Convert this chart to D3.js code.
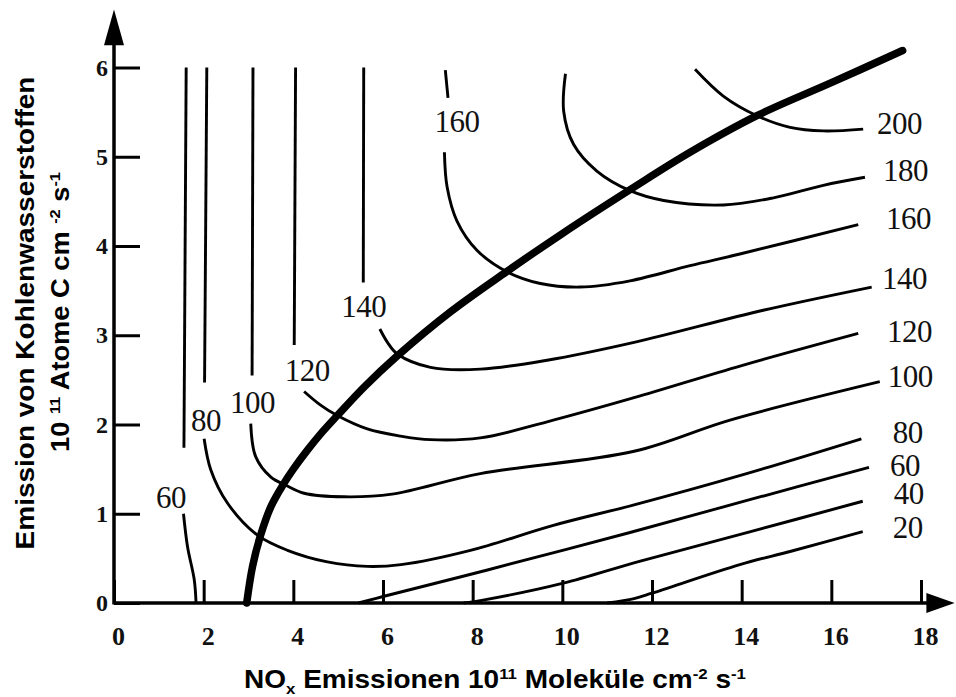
<!DOCTYPE html>
<html>
<head>
<meta charset="utf-8">
<script src="https://cdn.jsdelivr.net/npm/d3@7"></script>
<style>
  body { margin: 0; background: #fff; }
  svg { display: block; }
</style>
</head>
<body>
<svg id="chart" width="956" height="697"></svg>
<script>
// Axis ticks
const xTicks = [0, 2, 4, 6, 8, 10, 12, 14, 16, 18];
const yTicks = [0, 1, 2, 3, 4, 5, 6];

// Ridge line (maximum ozone for a given NOx emission)
const ridgeLine = [[2.96, 0], [3.09, 0.41], [3.27, 0.76], [3.5, 1.08], [3.79, 1.34], [4.0, 1.50],
  [4.31, 1.71], [4.6, 1.89], [4.98, 2.10], [5.6, 2.43], [6.3, 2.76], [7.5, 3.26], [8.75, 3.71],
  [10.0, 4.14], [11.6, 4.66], [12.85, 5.05], [14.34, 5.46], [16.0, 5.83], [17.59, 6.19]];

// Ozone isopleths, one array per drawn segment
const iso20 = [[11.0, 0], [11.6, 0.05], [12.0, 0.11], [13.96, 0.43], [15.1, 0.58], [16.7, 0.80]];
const iso40 = [[7.8, 0], [8.2, 0.03], [10.0, 0.22], [11.74, 0.47], [14.2, 0.80], [16.7, 1.14]];
const iso60Upper = [[1.61, 6.0], [1.56, 1.74]];
const iso60Lower = [[1.55, 1.00], [1.64, 0.63], [1.79, 0.26], [1.83, 0]];
const iso60Right = [[5.45, 0], [5.98, 0.07], [8.33, 0.37], [11.51, 0.79], [14.2, 1.16], [16.84, 1.52]];
const iso80Upper = [[2.07, 6.0], [2.02, 2.47]];
const iso80Lower = [[2.01, 1.84], [2.16, 1.49], [2.53, 1.12], [3.20, 0.76], [3.87, 0.59], [4.76, 0.46],
  [5.65, 0.41], [6.4, 0.43], [7.95, 0.59], [9.8, 0.87], [11.6, 1.10], [14.11, 1.45], [16.67, 1.84]];
const iso100Upper = [[3.10, 6.0], [3.08, 2.55]];
const iso100Lower = [[3.05, 2.01], [3.16, 1.64], [3.50, 1.41], [3.83, 1.32], [4.24, 1.23], [5.13, 1.19],
  [6.2, 1.22], [8.17, 1.45], [11.6, 1.70], [13.74, 2.05], [17.08, 2.48]];
const iso120Upper = [[4.05, 6.0], [4.02, 2.89]];
const iso120Lower = [[4.24, 2.37], [4.6, 2.22], [4.98, 2.10], [5.65, 1.95], [6.39, 1.87], [7.06, 1.83],
  [8.17, 1.85], [9.66, 2.03], [11.6, 2.30], [14.0, 2.66], [16.6, 3.02]];
const iso140Upper = [[5.57, 6.0], [5.56, 3.59]];
const iso140Lower = [[5.93, 3.07], [6.1, 2.92], [6.32, 2.79], [7.06, 2.64], [8.17, 2.62], [9.66, 2.72],
  [11.6, 2.92], [14.48, 3.28], [16.9, 3.54]];
const iso160Upper = [[7.39, 5.97], [7.45, 5.66]];
const iso160Lower = [[7.37, 5.05], [7.43, 4.66], [7.65, 4.28], [8.10, 3.95], [8.77, 3.71], [9.51, 3.58],
  [10.40, 3.54], [11.51, 3.61], [12.85, 3.78], [13.96, 3.91], [16.6, 4.24]];
const iso180 = [[10.07, 5.93], [10.03, 5.51], [10.25, 5.14], [10.77, 4.84], [11.51, 4.62], [12.26, 4.51],
  [13.59, 4.46], [14.71, 4.54], [15.82, 4.68], [16.75, 4.77]];
const iso200 = [[12.96, 5.98], [13.59, 5.68], [14.34, 5.46], [15.08, 5.33], [15.82, 5.29], [16.71, 5.31]];

const isoSegments = [iso20, iso40, iso60Upper, iso60Lower, iso60Right, iso80Upper, iso80Lower,
  iso100Upper, iso100Lower, iso120Upper, iso120Lower, iso140Upper, iso140Lower,
  iso160Upper, iso160Lower, iso180, iso200];

// Isopleth labels: value and anchor position in data units
const innerLabels = [[60, 1.27, 1.19], [80, 2.05, 2.05], [100, 3.09, 2.25], [120, 4.31, 2.61],
  [140, 5.57, 3.33], [160, 7.65, 5.40]];
const rightLabels = [[200, 17.02, 5.38], [180, 17.15, 4.85], [160, 17.22, 4.31], [140, 17.13, 3.64],
  [120, 17.24, 3.05], [100, 17.26, 2.54], [80, 17.37, 1.91], [60, 17.31, 1.54], [40, 17.39, 1.23],
  [20, 17.37, 0.85]];

const svg = d3.select("#chart");
const x = d3.scaleLinear().domain([0, 18]).range([114, 921]);
const y = d3.scaleLinear().domain([0, 6]).range([603, 67.5]);

const line = d3.line()
  .x(d => x(d[0]))
  .y(d => y(d[1]))
  .curve(d3.curveCatmullRom.alpha(0.5));

// Isopleths
svg.append("g")
  .selectAll("path")
  .data(isoSegments)
  .join("path")
  .attr("d", line)
  .attr("fill", "none")
  .attr("stroke", "#000")
  .attr("stroke-width", 2.9);

// Ridge line
svg.append("path")
  .attr("d", line(ridgeLine))
  .attr("fill", "none")
  .attr("stroke", "#000")
  .attr("stroke-width", 7.5)
  .attr("stroke-linecap", "round");

// Isopleth labels
const labelFont = "'Liberation Serif', 'Times New Roman', serif";
function drawLabels(data, anchor) {
  svg.append("g")
    .selectAll("text")
    .data(data)
    .join("text")
    .attr("x", d => x(d[1]))
    .attr("y", d => y(d[2]))
    .attr("dy", "0.35em")
    .attr("text-anchor", anchor)
    .style("font-family", labelFont)
    .style("font-size", "31px")
    .style("letter-spacing", "-0.5px")
    .attr("fill", "#111")
    .text(d => d[0]);
}
drawLabels(innerLabels, "middle");
drawLabels(rightLabels, "start");

// Axes
const tickFont = "'Liberation Serif', 'Times New Roman', serif";
const gx = svg.append("g")
  .attr("transform", `translate(0,${y(0)})`)
  .call(d3.axisBottom(x).tickValues(xTicks).tickSizeInner(-23).tickSizeOuter(0).tickFormat(d3.format("d")));
gx.select(".domain").remove();
gx.selectAll(".tick line").attr("stroke", "#000").attr("stroke-width", 3);
gx.selectAll(".tick text")
  .attr("y", 33).attr("dy", "0.35em").attr("dx", 4)
  .attr("fill", "#111")
  .style("font-family", tickFont).style("font-weight", "bold").style("font-size", "26px");

const gy = svg.append("g")
  .attr("transform", `translate(${x(0)},0)`)
  .call(d3.axisLeft(y).tickValues(yTicks).tickSizeInner(-26).tickSizeOuter(0).tickFormat(d3.format("d")));
gy.select(".domain").remove();
gy.selectAll(".tick line").attr("stroke", "#000").attr("stroke-width", 3);
gy.selectAll(".tick text")
  .attr("x", -12).attr("text-anchor", "middle")
  .attr("fill", "#111")
  .style("font-family", tickFont).style("font-weight", "bold").style("font-size", "24px");

// Axis lines with arrowheads
svg.append("line")
  .attr("x1", x(0)).attr("x2", x(18.3))
  .attr("y1", y(0)).attr("y2", y(0))
  .attr("stroke", "#000").attr("stroke-width", 3.5);
svg.append("path")
  .attr("d", `M${x(18.75)},${y(0)} L${x(18.12)},${y(0) - 10} L${x(18.12)},${y(0) + 10} Z`)
  .attr("fill", "#000");
svg.append("line")
  .attr("x1", x(0)).attr("x2", x(0))
  .attr("y1", y(0) + 1.5).attr("y2", y(6.4))
  .attr("stroke", "#000").attr("stroke-width", 3.5);
svg.append("path")
  .attr("d", `M${x(0)},${y(6.65)} L${x(0) - 10},${y(6.25)} L${x(0) + 10},${y(6.25)} Z`)
  .attr("fill", "#000");

// Axis titles
const titleFont = "'Liberation Sans', Arial, sans-serif";
const xt = svg.append("text")
  .attr("transform", "translate(495,688) scale(1.12,1)")
  .attr("text-anchor", "middle")
  .style("font-family", titleFont).style("font-weight", "bold").style("font-size", "25px")
  .attr("fill", "#000");
xt.append("tspan").text("NO");
xt.append("tspan").attr("dy", 6).style("font-size", "15px").text("x");
xt.append("tspan").attr("dy", -6).text(" Emissionen 10");
xt.append("tspan").attr("dy", -9).style("font-size", "15px").text("11");
xt.append("tspan").attr("dy", 9).text(" Moleküle cm");
xt.append("tspan").attr("dy", -9).style("font-size", "15px").text("-2");
xt.append("tspan").attr("dy", 9).text(" s");
xt.append("tspan").attr("dy", -9).style("font-size", "15px").text("-1");

svg.append("text")
  .attr("transform", "translate(34,313) rotate(-90) scale(1.12,1)")
  .attr("text-anchor", "middle")
  .style("font-family", titleFont).style("font-weight", "bold").style("font-size", "25px")
  .attr("fill", "#000")
  .text("Emission von Kohlenwasserstoffen");

const yt2 = svg.append("text")
  .attr("transform", "translate(69,312) rotate(-90) scale(1.09,1)")
  .attr("text-anchor", "middle")
  .style("font-family", titleFont).style("font-weight", "bold").style("font-size", "25px")
  .attr("fill", "#000");
yt2.append("tspan").text("10 ");
yt2.append("tspan").attr("dy", -9).style("font-size", "15px").text("11");
yt2.append("tspan").attr("dy", 9).text(" Atome C cm ");
yt2.append("tspan").attr("dy", -9).style("font-size", "15px").text("-2");
yt2.append("tspan").attr("dy", 9).text(" s");
yt2.append("tspan").attr("dy", -9).style("font-size", "15px").text("-1");
</script>
</body>
</html>
